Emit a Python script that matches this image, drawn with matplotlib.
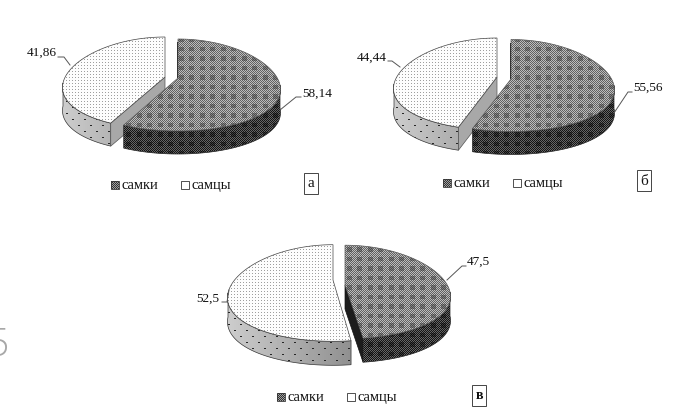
# -*- coding: utf-8 -*-
import numpy as np
import matplotlib
matplotlib.use('Agg')
import matplotlib.pyplot as plt
from matplotlib.patches import Polygon, Rectangle

plt.rcParams['font.family'] = ['Liberation Serif', 'DejaVu Serif']

W, H = 681, 419

series_names = ['самки', 'самцы']
panel_letters = ['а', 'б', 'в']
females = [58.14, 55.56, 47.5]
males = [41.86, 44.44, 52.5]
female_labels = ['58,14', '55,56', '47,5']
male_labels = ['41,86', '44,44', '52,5']

# geometry of each little pie, in pixels of the picture
# f / m: apex x, apex y, ellipse ry, shift of the ellipse below the apex
panels = [
    dict(f=(178, 78, 46, 7), m=(165, 77, 46, 6), rx=102, depth=23, letter=(311, 183.5), leg=(111, 185.5),
         flab=(317.5, 94), mlab=(42, 53), fline=[(280, 110), (296, 97), (301, 97)],
         mline=[(70, 65), (64, 57), (58, 57)]),
    dict(f=(511, 79, 46, 6.5), m=(497, 77, 46, 7), rx=103, depth=23, letter=(644, 181), leg=(443, 183),
         flab=(648.5, 88), mlab=(372, 58), fline=[(614, 113), (628, 92), (632, 92)],
         mline=[(400, 67), (392, 61), (388, 61)]),
    dict(f=(345, 285, 46.8, 7), m=(333, 280, 48.3, 13), rx=105, depth=24, letter=(479, 395.5), leg=(277, 397),
         flab=(478, 262), mlab=(207.5, 299), fline=[(447, 280), (462, 266), (466, 266)],
         mline=[(229, 290), (227, 302), (222, 302)]),
]


def project(theta, pie, rx):
    # theta clockwise from 12 o'clock, nearer part of the disc is drawn wider
    cx, cy, ry, shift = pie
    sx = np.sin(theta)
    sy = -np.cos(theta)
    return cx + rx * sx * (1 + 0.1 * sy), cy + shift + ry * sy


def wedge_pts(pie, rx, a0, a1):
    t = np.linspace(a0, a1, 160)
    x, y = project(t, pie, rx)
    return np.r_[pie[0], x], np.r_[pie[1], y]


yy, xx = np.mgrid[0:H, 0:W]


def tex_female_top():
    img = np.where((xx + yy) % 2 == 0, 0.74, 0.38)
    blob = ((xx % 10.5) < 5) & ((yy % 9.5) < 4.5)
    img = np.where(blob, np.where((xx + yy) % 2 == 0, 0.50, 0.30), img)
    return img


def tex_female_side():
    img = np.where((xx + yy) % 2 == 0, 0.40, 0.08)
    blob = ((xx % 10.5) < 5) & ((yy % 9.5) < 4.5)
    return np.where(blob, img * 0.6, img)


def tex_male_top():
    img = np.ones((H, W)) * 0.99
    img[((xx % 3) == 0) & ((yy % 3) == 0)] = 0.62
    return img


def tex_male_side(x0, x1):
    g = 0.80 - 0.24 * np.clip((xx - x0) / (x1 - x0), 0, 1)
    dots = ((xx + yy) % 12 < 2) & ((xx - yy) % 12 < 2)
    return np.where(dots, 0.15, g)


def textured(ax, x, y, img, z, ec='#333333'):
    p = Polygon(np.c_[x, y], closed=True, fc='none', ec=ec, lw=0.5, zorder=z + 0.1)
    ax.add_patch(p)
    im = ax.imshow(img, extent=(0, W, H, 0), cmap='gray', vmin=0, vmax=1, zorder=z,
                   interpolation='nearest', aspect='auto')
    im.set_clip_path(p)


def side_band(pie, rx, a0, a1, depth):
    # outer wall, only the part that faces the viewer
    lo, hi = max(a0, np.pi / 2), min(a1, 3 * np.pi / 2)
    t = np.linspace(lo, hi, 120)
    x, y = project(t, pie, rx)
    return np.r_[x, x[::-1]], np.r_[y, y[::-1] + depth]


fig = plt.figure(figsize=(W / 100, H / 100), dpi=100, facecolor='white')
ax = fig.add_axes([0, 0, 1, 1])
ax.set_axis_off()

ftop, fside, mtop = tex_female_top(), tex_female_side(), tex_male_top()

for i, pn in enumerate(panels):
    a = 2 * np.pi * females[i] / (females[i] + males[i])
    f, m, rx, d = pn['f'], pn['m'], pn['rx'], pn['depth']

    # самцы: second slice, from the cut round to 12 o'clock
    x, y = side_band(m, rx, a, 2 * np.pi, d)
    textured(ax, x, y, tex_male_side(m[0] - rx, m[0] + 20), 2)
    tx, ty = project(np.array([a]), m, rx)
    if tx[0] < m[0]:
        ax.add_patch(Polygon([(m[0], m[1]), (tx[0], ty[0]), (tx[0], ty[0] + d), (m[0], m[1] + d)],
                             closed=True, fc='#a8a8a8', ec='#555555', lw=0.5, zorder=2.5))
    x, y = wedge_pts(m, rx, a, 2 * np.pi)
    textured(ax, x, y, mtop, 3, ec='#444444')

    # самки: first slice, from 12 o'clock
    tx, ty = project(np.array([a]), f, rx)
    if tx[0] > f[0]:
        ax.add_patch(Polygon([(f[0], f[1]), (tx[0], ty[0]), (tx[0], ty[0] + d), (f[0], f[1] + d)],
                             closed=True, fc='#1c1c1c', ec='#111111', lw=0.5, zorder=4))
    else:
        ax.add_patch(Rectangle((f[0] - 1, f[1] - 36), 1, 36, fc='#222222', ec='none', zorder=4))
    x, y = side_band(f, rx, 0, a, d)
    textured(ax, x, y, fside, 4.2, ec='#222222')
    x, y = wedge_pts(f, rx, 0, a)
    textured(ax, x, y, ftop, 5, ec='#555555')

    # подписи значений
    ax.plot(*zip(*pn['fline']), color='#555555', lw=0.7, zorder=6)
    ax.plot(*zip(*pn['mline']), color='#555555', lw=0.7, zorder=6)
    ax.text(*pn['flab'], female_labels[i], fontsize=9.5, ha='center', va='center', color='#111111', zorder=7)
    ax.text(*pn['mlab'], male_labels[i], fontsize=9.5, ha='center', va='center', color='#111111', zorder=7)

    # легенда
    lx, ly = pn['leg']
    sw = Rectangle((lx, ly - 4), 8, 8, fc='none', ec='#333333', lw=0.6, zorder=6)
    ax.add_patch(sw)
    swim = ax.imshow(np.where((xx + yy) % 2 == 0, 0.62, 0.2), extent=(0, W, H, 0), cmap='gray', vmin=0, vmax=1,
                     zorder=5.9, interpolation='nearest', aspect='auto')
    swim.set_clip_path(sw)
    ax.text(lx + 11, ly, series_names[0], fontsize=10.5, ha='left', va='center', color='#111111')
    ax.add_patch(Rectangle((lx + 70, ly - 4), 8, 8, fc='white', ec='#333333', lw=0.6, zorder=6))
    ax.text(lx + 81, ly, series_names[1], fontsize=10.5, ha='left', va='center', color='#111111')

    # буква панели
    bx, by = pn['letter']
    ax.add_patch(Rectangle((bx - 7, by - 10.5), 14, 21, fc='white', ec='#444444', lw=0.7, zorder=6))
    ax.text(bx, by, panel_letters[i], fontsize=10 if i == 2 else 11, ha='center', va='center', color='#111111',
            zorder=7, fontweight='bold' if i == 2 else 'normal')

# обрезанная цифра страницы слева
ax.text(-13, 346, '5', fontsize=27, ha='left', va='center', color='#a8a8a8', family='Open Sans', fontweight='light')

ax.set_xlim(0, W)
ax.set_ylim(H, 0)
fig.savefig('out.png', dpi=100, facecolor='white')
